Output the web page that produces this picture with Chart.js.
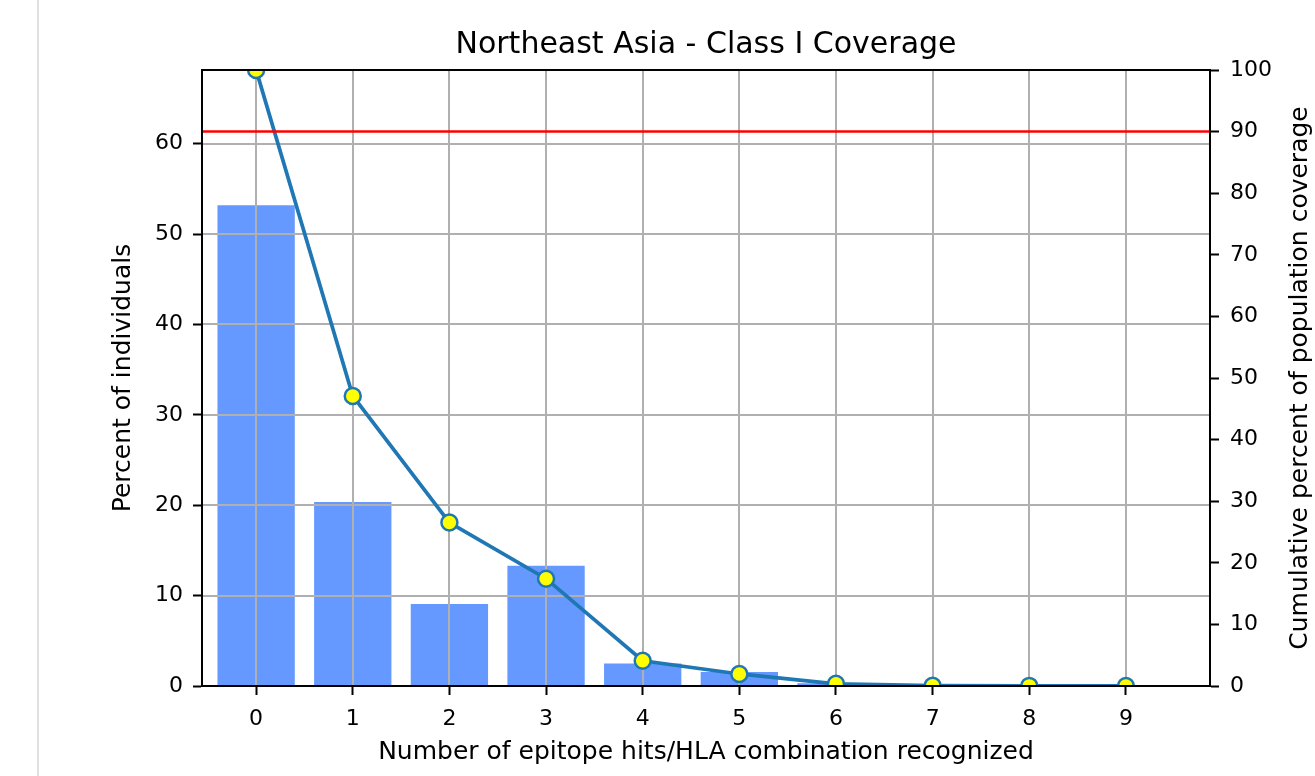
<!DOCTYPE html>
<html><head><meta charset="utf-8">
<script src="https://cdn.jsdelivr.net/npm/chart.js@4"></script>
<style>
html,body{margin:0;padding:0;background:#fff;}
#wrap{position:relative;width:1315px;height:776px;overflow:hidden;}
#rule{position:absolute;left:37px;top:0;width:2px;height:776px;background:#e0e0e0;}
canvas{position:absolute;left:0;top:0;}
</style></head><body>
<div id="wrap"><div id="rule"></div><canvas id="c" width="1315" height="776"></canvas></div>
<script>
const chartTitle = 'Northeast Asia - Class I Coverage';
const xAxisTitle = 'Number of epitope hits/HLA combination recognized';
const leftAxisTitle = 'Percent of individuals';
const rightAxisTitle = 'Cumulative percent of population coverage';

const epitopeHits = [0, 1, 2, 3, 4, 5, 6, 7, 8, 9];
const percentIndividuals = [53.2, 20.36, 9.07, 13.31, 2.5, 1.55, 0.3, 0.05, 0.02, 0.0];
const cumulativeCoverage = [100, 47.08, 26.54, 17.42, 4.1, 1.95, 0.35, 0.05, 0.02, 0.01];
const coverageThreshold = 90;

const xLimits = [-0.56, 9.87];
const leftLimits = [0, 68.15];
const rightLimits = [0, 100];

const FONT = "'DejaVu Sans', sans-serif";

const gridOverBars = {
  id: 'gridOverBars',
  afterDatasetDraw(chart, args) {
    if (args.meta.type !== 'bar') return;
    const {ctx, chartArea: a, scales} = chart;
    ctx.save();
    ctx.strokeStyle = '#b0b0b0';
    ctx.lineWidth = 2;
    ctx.beginPath();
    scales.x.ticks.forEach(t => {
      const px = Math.round(scales.x.getPixelForValue(t.value));
      ctx.moveTo(px, a.top); ctx.lineTo(px, a.bottom);
    });
    scales.y.ticks.forEach(t => {
      const py = Math.round(scales.y.getPixelForValue(t.value));
      ctx.moveTo(a.left, py); ctx.lineTo(a.right, py);
    });
    ctx.stroke();
    ctx.restore();
  }
};

const frameAndRightTitle = {
  id: 'frameAndRightTitle',
  afterDatasetsDraw(chart) {
    const {ctx, chartArea: a} = chart;
    ctx.save();
    ctx.strokeStyle = '#000';
    ctx.lineWidth = 2;
    ctx.strokeRect(Math.round(a.left), Math.round(a.top), Math.round(a.right - a.left), Math.round(a.bottom - a.top));
    ctx.restore();
  },
  afterDraw(chart) {
    const {ctx, chartArea: a, scales} = chart;
    ctx.save();
    ctx.translate(scales.y1.right - 15, (a.top + a.bottom) / 2);
    ctx.rotate(-Math.PI / 2);
    ctx.font = "25px " + FONT;
    ctx.fillStyle = '#000';
    ctx.textAlign = 'center';
    ctx.textBaseline = 'middle';
    ctx.fillText(rightAxisTitle, 0, 0);
    ctx.restore();
  }
};

new Chart(document.getElementById('c'), {
  type: 'bar',
  data: {
    datasets: [
      {
        type: 'bar',
        label: leftAxisTitle,
        data: epitopeHits.map((x, i) => ({x, y: percentIndividuals[i]})),
        backgroundColor: '#6699ff',
        borderWidth: 0,
        barPercentage: 0.8,
        categoryPercentage: 1,
        yAxisID: 'y',
        order: 2
      },
      {
        type: 'line',
        label: rightAxisTitle,
        data: epitopeHits.map((x, i) => ({x, y: cumulativeCoverage[i]})),
        borderColor: '#1f77b4',
        borderWidth: 3.75,
        pointRadius: 8,
        pointBorderWidth: 2.5,
        pointBackgroundColor: '#ffff00',
        pointBorderColor: '#1f77b4',
        tension: 0,
        yAxisID: 'y1',
        order: 1,
        clip: 0
      },
      {
        type: 'line',
        label: 'threshold',
        data: xLimits.map(x => ({x, y: coverageThreshold})),
        borderColor: '#ff0000',
        borderWidth: 2.5,
        pointRadius: 0,
        yAxisID: 'y1',
        order: 0,
        clip: 0
      }
    ]
  },
  options: {
    responsive: false,
    animation: false,
    layout: {padding: 0},
    plugins: {
      legend: {display: false},
      tooltip: {enabled: false},
      title: {
        display: true,
        text: chartTitle,
        fullSize: false,
        color: '#000',
        font: {family: FONT, size: 30, weight: 'normal', lineHeight: 1.2},
        padding: {top: 27.6, bottom: 6.4}
      }
    },
    scales: {
      x: {
        type: 'linear',
        min: xLimits[0], max: xLimits[1],
        offset: false,
        afterFit: s => { s.height = 90; },
        ticks: {stepSize: 1, includeBounds: false, autoSkip: false, maxRotation: 0, color: '#000', font: {family: FONT, size: 22}, padding: 11},
        grid: {offset: false, drawOnChartArea: false, drawTicks: true, tickLength: 9, tickWidth: 2, tickColor: '#000'},
        border: {display: true, color: '#000', width: 2},
        title: {display: true, text: xAxisTitle, color: '#000', font: {family: FONT, size: 25, lineHeight: 1.2}, padding: {top: 0, bottom: 8.6}}
      },
      y: {
        type: 'linear',
        position: 'left',
        min: leftLimits[0], max: leftLimits[1],
        afterFit: s => { s.width = 202; },
        ticks: {stepSize: 10, includeBounds: false, color: '#000', font: {family: FONT, size: 22}, padding: 10},
        grid: {drawOnChartArea: false, drawTicks: true, tickLength: 9, tickWidth: 2, tickColor: '#000'},
        border: {display: true, color: '#000', width: 2},
        title: {display: true, text: leftAxisTitle, color: '#000', font: {family: FONT, size: 25, lineHeight: 1.2}, padding: {top: 108, bottom: 0}}
      },
      y1: {
        type: 'linear',
        position: 'right',
        min: rightLimits[0], max: rightLimits[1],
        afterFit: s => { s.width = 105; },
        ticks: {stepSize: 10, includeBounds: false, color: '#000', font: {family: FONT, size: 22}, padding: 11},
        grid: {drawOnChartArea: false, drawTicks: true, tickLength: 9, tickWidth: 2, tickColor: '#000'},
        border: {display: true, color: '#000', width: 2},
        title: {display: false}
      }
    }
  },
  plugins: [gridOverBars, frameAndRightTitle]
});
</script>
</body></html>
